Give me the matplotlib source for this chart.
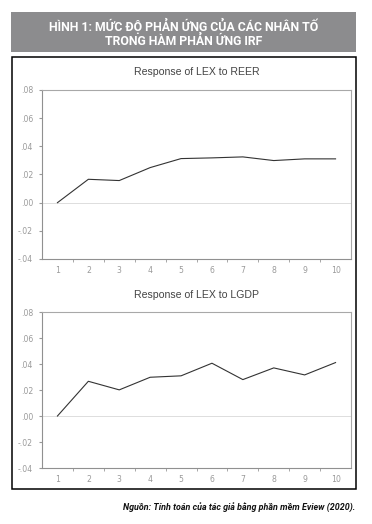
import matplotlib.pyplot as plt
from matplotlib.patches import Rectangle

# data
periods = [1, 2, 3, 4, 5, 6, 7, 8, 9, 10]
reer_response = [0.0, 0.0166, 0.0157, 0.0249, 0.0313, 0.0318, 0.0325, 0.0299, 0.0311, 0.0311]
lgdp_response = [0.0, 0.0267, 0.0201, 0.0298, 0.0309, 0.0406, 0.0280, 0.0370, 0.0316, 0.0411]
y_ticks = [-0.04, -0.02, 0.0, 0.02, 0.04, 0.06, 0.08]
y_tick_labels = ['-.04', '-.02', '.00', '.02', '.04', '.06', '.08']
panel_titles = ['Response of LEX to REER', 'Response of LEX to LGDP']

header_text = 'HÌNH 1: MỨC ĐỘ PHẢN ỨNG CỦA CÁC NHÂN TỐ\nTRONG HÀM PHẢN ỨNG IRF'
source_text = 'Nguồn: Tính toán của tác giả bằng phần mềm Eview (2020).'

W, H = 372, 524
fig = plt.figure(figsize=(W / 100, H / 100), dpi=100)

# grey header band
fig.patches.append(Rectangle((11 / W, 1 - 52 / H), 345 / W, 40 / H,
                             transform=fig.transFigure, facecolor='#8c8c8e',
                             edgecolor='none', zorder=0))
fig.text(184 / W, 1 - 33 / H, header_text, ha='center', va='center',
         color='white', fontsize=8.8, fontweight='bold', linespacing=1.05,
         family=['Roboto', 'DejaVu Sans'])

# black frame around the two panels
fig.patches.append(Rectangle((12 / W, 1 - 489 / H), 344 / W, 432 / H,
                             transform=fig.transFigure, facecolor='none',
                             edgecolor='black', linewidth=1.1, zorder=0))


def draw_panel(rect, values, title, title_y):
    ax = fig.add_axes(rect)
    ax.plot(periods, values, color='#333333', linewidth=0.8)
    ax.axhline(0, color='#d8d8d8', linewidth=0.6, zorder=0)
    ax.set_xlim(0.5, 10.5)
    ax.set_ylim(-0.04, 0.08)
    ax.set_yticks(y_ticks)
    ax.set_yticklabels(y_tick_labels)
    ax.set_xticks(periods)
    ax.set_xticks([p + 0.5 for p in periods[:-1]], minor=True)
    ax.tick_params(axis='x', which='major', length=0, pad=5)
    ax.tick_params(axis='x', which='minor', length=2.5, color='#999999', direction='out')
    ax.tick_params(axis='y', length=2.5, color='#999999', pad=4)
    ax.tick_params(labelsize=5.6, labelcolor='#9a9a9a')
    for sp in ax.spines.values():
        sp.set_color('#a8a8a8')
        sp.set_linewidth(0.8)
    ax.spines['left'].set_color('#909090')
    ax.spines['bottom'].set_color('#909090')
    fig.text(197 / W, 1 - title_y / H, title, ha='center', va='center',
             fontsize=7.6, color='#444444', family=['Liberation Sans', 'DejaVu Sans'])
    return ax


draw_panel([42 / W, 1 - 259 / H, 309 / W, 169 / H], reer_response, panel_titles[0], 72)
draw_panel([42 / W, 1 - 468 / H, 309 / W, 156 / H], lgdp_response, panel_titles[1], 295)

fig.text(355 / W, 1 - 508 / H, source_text, ha='right', va='center',
         fontsize=6.4, style='italic', fontweight='bold', color='#111111',
         family=['Roboto', 'DejaVu Sans'])

fig.savefig('out.png', dpi=100)
